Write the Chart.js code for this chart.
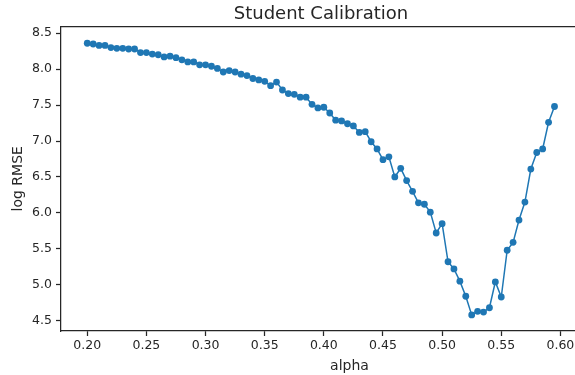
<!DOCTYPE html>
<html>
<head>
<meta charset="utf-8">
<script src="https://cdn.jsdelivr.net/npm/chart.js@4"></script>
<style>
  html, body { margin: 0; padding: 0; overflow: hidden; background: #fff; }
  /* the canvas is wider than the window: the axes box runs past the right edge, as in the reference */
  #frame { width: 575px; height: 375px; overflow: hidden; }
  #chart { display: block; }
</style>
</head>
<body>
<div id="frame"><canvas id="chart" width="642" height="375"></canvas></div>
<script>
// alpha values (x), 0.200 .. 0.595
const alphas = [
  0.200, 0.205, 0.210, 0.215, 0.220, 0.225, 0.230, 0.235, 0.240, 0.245,
  0.250, 0.255, 0.260, 0.265, 0.270, 0.275, 0.280, 0.285, 0.290, 0.295,
  0.300, 0.305, 0.310, 0.315, 0.320, 0.325, 0.330, 0.335, 0.340, 0.345,
  0.350, 0.355, 0.360, 0.365, 0.370, 0.375, 0.380, 0.385, 0.390, 0.395,
  0.400, 0.405, 0.410, 0.415, 0.420, 0.425, 0.430, 0.435, 0.440, 0.445,
  0.450, 0.455, 0.460, 0.465, 0.470, 0.475, 0.480, 0.485, 0.490, 0.495,
  0.500, 0.505, 0.510, 0.515, 0.520, 0.525, 0.530, 0.535, 0.540, 0.545,
  0.550, 0.555, 0.560, 0.565, 0.570, 0.575, 0.580, 0.585, 0.590, 0.595
];

// log RMSE values
const logRmse = [
  8.36, 8.35, 8.33, 8.33, 8.30, 8.29, 8.29, 8.28, 8.28, 8.23,
  8.23, 8.21, 8.20, 8.17, 8.18, 8.16, 8.13, 8.10, 8.10, 8.06,
  8.06, 8.04, 8.01, 7.96, 7.98, 7.96, 7.93, 7.91, 7.87, 7.85,
  7.83, 7.77, 7.82, 7.71, 7.66, 7.65, 7.61, 7.61, 7.51, 7.46,
  7.47, 7.39, 7.29, 7.28, 7.24, 7.21, 7.12, 7.13, 6.99, 6.89,
  6.74, 6.78, 6.50, 6.62, 6.45, 6.30, 6.14, 6.12, 6.01, 5.72,
  5.85, 5.32, 5.22, 5.05, 4.84, 4.58, 4.63, 4.62, 4.68, 5.04,
  4.83, 5.48, 5.59, 5.90, 6.15, 6.61, 6.84, 6.89, 7.26, 7.48
];

// tick labels
const xTicks = [0.20, 0.25, 0.30, 0.35, 0.40, 0.45, 0.50, 0.55, 0.60];
const yTicks = [4.5, 5.0, 5.5, 6.0, 6.5, 7.0, 7.5, 8.0, 8.5];

const ink = '#262626';
const font = 'DejaVu Sans';

// top spine (seaborn "ticks" style draws a full box; the right side is off-screen)
const boxPlugin = {
  id: 'box',
  afterDraw(chart) {
    const { ctx, chartArea: a } = chart;
    ctx.save();
    ctx.strokeStyle = ink;
    ctx.lineWidth = 1.25;
    ctx.beginPath();
    ctx.moveTo(a.left, a.top);
    ctx.lineTo(a.right, a.top);
    ctx.stroke();
    ctx.restore();
  }
};

const ctx = document.getElementById('chart').getContext('2d');
new Chart(ctx, {
  type: 'line',
  data: {
    datasets: [{
      data: alphas.map((a, i) => ({ x: a, y: logRmse[i] })),
      borderColor: '#1f77b4',
      backgroundColor: '#1f77b4',
      pointBackgroundColor: '#1f77b4',
      borderWidth: 1.5,
      pointRadius: 3.4,
      pointBorderWidth: 0,
      tension: 0
    }]
  },
  options: {
    responsive: false,
    animation: false,
    layout: { padding: 0 },
    plugins: {
      legend: { display: false },
      tooltip: { enabled: false },
      title: {
        display: true,
        text: 'Student Calibration',
        color: ink,
        font: { family: font, size: 18, weight: 'normal' },
        padding: { top: 4, bottom: 1 }
      }
    },
    scales: {
      x: {
        type: 'linear',
        min: 0.1778,
        max: 0.6656,
        afterBuildTicks: s => { s.ticks = xTicks.map(v => ({ value: v })); },
        afterFit: s => { s.height = 44; },
        ticks: {
          color: ink,
          font: { family: font, size: 12.5 },
          padding: 2,
          maxRotation: 0,
          callback: v => v.toFixed(2)
        },
        grid: { drawOnChartArea: false, drawTicks: true, tickLength: 5, tickColor: ink, tickWidth: 1.25 },
        border: { display: true, color: ink, width: 1.25 },
        title: {
          display: true,
          text: 'alpha',
          color: ink,
          font: { family: font, size: 14 },
          padding: { top: 0, bottom: 0 }
        }
      },
      y: {
        min: 4.3566,
        max: 8.592,
        afterBuildTicks: s => { s.ticks = yTicks.map(v => ({ value: v })); },
        afterFit: s => { s.width = 61; },
        ticks: {
          color: ink,
          font: { family: font, size: 12.5 },
          padding: 4,
          callback: v => v.toFixed(1)
        },
        grid: { drawOnChartArea: false, drawTicks: true, tickLength: 5, tickColor: ink, tickWidth: 1.25 },
        border: { display: true, color: ink, width: 1.25 },
        title: {
          display: true,
          text: 'log RMSE',
          color: ink,
          font: { family: font, size: 14 },
          padding: { top: 10, bottom: 0 }
        }
      }
    }
  },
  plugins: [boxPlugin]
});
</script>
</body>
</html>
